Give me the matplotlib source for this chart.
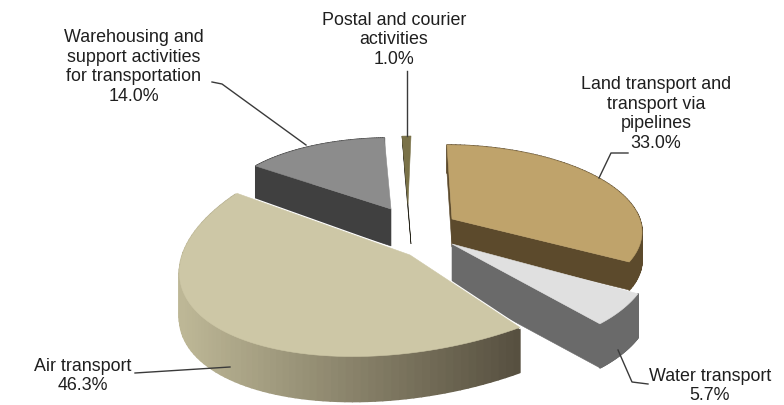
import numpy as np
import matplotlib
matplotlib.use("Agg")
import matplotlib.pyplot as plt
from matplotlib.patches import Polygon
from matplotlib.collections import PolyCollection
from matplotlib.colors import to_rgb

categories = ["Land transport and\ntransport via\npipelines", "Water transport", "Air transport",
              "Warehousing and\nsupport activities\nfor transportation", "Postal and courier\nactivities"]
shares = [33.0, 5.7, 46.3, 14.0, 1.0]

top_colors = ["#bfa36b", "#e0e0e0", "#cdc7a6", "#8c8c8c", "#7a7248"]
side_colors = ["#5c4a2c", "#6a6a6a", "#8c8670", "#404040", "#26241a"]

# per-wedge projection: apex, (A,B,C,D,P), depth (dx,dy)
projection = [
    dict(apex=(452, 220), m=(188, -5.6, 1, -82.5, 0.115), depth=(0, 28), faces=(True, True), wall=True),
    dict(apex=(452, 245), m=(199, -24, -2, -107, 0.0), depth=(0, 44), faces=(False, True), wall=True),
    dict(apex=(410, 256), m=(230, 41, -10, -112, -0.108), depth=(0, 45), faces=(False, False), wall=True),
    dict(apex=(391, 210), m=(170, 4, 1.5, -71, 0.0), depth=(0, 37), faces=(True, False), wall=True),
    dict(apex=(408, 205), m=(143, 3, 0, -68, 0.0), depth=(3, 40), faces=(True, False), wall=False),
]

label_pos = [(656, 114), (710, 386), (83, 376), (134, 67), (394, 40)]
leaders = [
    [(628, 154), (611, 154), (599, 179)],
    [(648, 385), (632, 383), (618, 351)],
    [(135, 374), (230, 368)],
    [(212, 83), (222, 85), (306, 146)],
    [(407, 72), (407, 137)],
]

plt.rcParams["font.family"] = ["Liberation Sans", "DejaVu Sans"]
fig = plt.figure(figsize=(7.84, 4.06), dpi=100)
ax = fig.add_axes([0, 0, 1, 1])
ax.set_xlim(0, 784)
ax.set_ylim(406, 0)
ax.axis("off")


def project(theta, apex, m):
    A, B, C, D, P = m
    u, v = np.sin(theta), np.cos(theta)
    w = 1 + P * v
    return np.column_stack([apex[0] + (A * u + B * v) / w, apex[1] + (C * u + D * v) / w])


edges = np.radians(np.concatenate([[0], np.cumsum(shares)]) * 3.6)
order = [3, 4, 0, 1, 2]
for i in order:
    p = projection[i]
    z = 2 + order.index(i)
    th = np.linspace(edges[i], edges[i + 1], 80)
    arc = project(th, p["apex"], p["m"])
    apex = np.array(p["apex"], float)
    d = np.array(p["depth"], float)
    if p["wall"]:
        quads = [[arc[k], arc[k + 1], arc[k + 1] + d, arc[k] + d] for k in range(len(arc) - 1)]
        if i == 2:
            c0, c1 = np.array(to_rgb("#bdb796")), np.array(to_rgb("#575040"))
            t = [np.clip((q[0][0] - 184) / (520 - 184), 0, 1) for q in quads]
            cols = [c0 + (c1 - c0) * x for x in t]
        else:
            cols = [side_colors[i]] * len(quads)
        ax.add_collection(PolyCollection(quads, facecolors=cols, edgecolors=cols, linewidths=1.2, zorder=z))
    for use, corner in zip(p["faces"], (arc[0], arc[-1])):
        if use:
            ax.add_patch(Polygon([apex, corner, corner + d, apex + d], closed=True,
                                 fc=side_colors[i], ec=side_colors[i], lw=0.4, zorder=z))
    if i == 2:
        # white hairline separates air from the wedges behind it
        ax.plot([arc[0, 0], apex[0], arc[-1, 0]], [arc[0, 1], apex[1], arc[-1, 1]],
                color="white", lw=2.0, zorder=z + 0.2)
    ax.add_patch(Polygon(np.vstack([apex, arc]), closed=True, fc=top_colors[i],
                         ec=top_colors[i], lw=0.4, zorder=z + 0.5))

for pts in leaders:
    xs, ys = zip(*pts)
    ax.plot(xs, ys, color="#3a3a3a", lw=1.0, zorder=10)

for name, val, (x, y) in zip(categories, shares, label_pos):
    ax.text(x, y, f"{name}\n{val:.1f}%", ha="center", va="center", fontsize=12.9,
            color="#1f1f1f", linespacing=1.22, zorder=11)

fig.savefig("out.png", dpi=100, facecolor="white")
